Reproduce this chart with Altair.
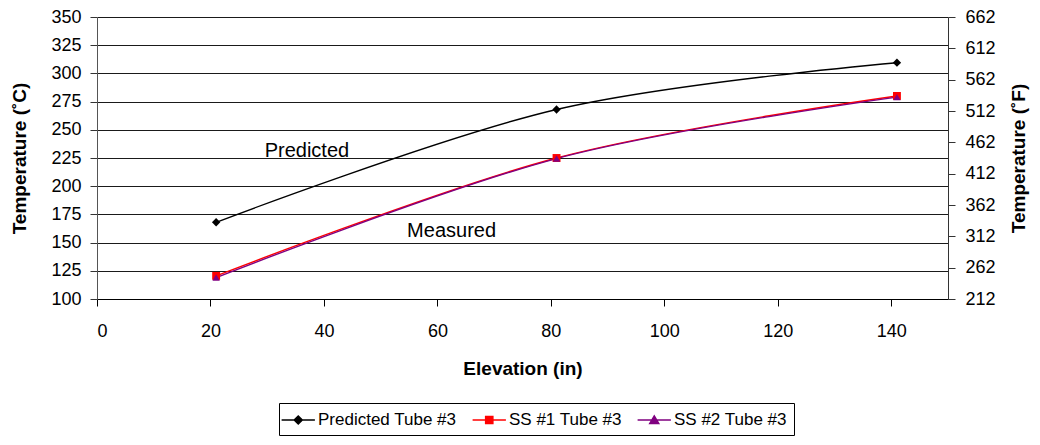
import altair as alt
import pandas as pd

# ---------------- data ----------------
elevation = [21, 81, 141]
predicted = [168, 268, 309.5]
ss1 = [120.5, 225, 280]
ss2 = [119, 224.5, 279]

series_names = ["Predicted Tube #3", "SS #1 Tube #3", "SS #2 Tube #3"]
series_colors = ["#000000", "#ff0000", "#800080"]
marker_shapes = ["diamond", "square", "triangle-up"]
marker_sizes = [70, 55, 64]
# legend symbols: short line with the marker in its middle
legend_shapes = [
    "M-1.6,0H2.1M0.25,-0.45L0.7,0L0.25,0.45L-0.2,0Z",
    "M-1.6,0H2.1M-0.15,-0.4H0.65V0.4H-0.15Z",
    "M-1.6,0H2.1M0.25,-0.45L0.75,0.4H-0.25Z",
]

x_ticks = [0, 20, 40, 60, 80, 100, 120, 140]
c_ticks = [100, 125, 150, 175, 200, 225, 250, 275, 300, 325, 350]
f_ticks = [212, 262, 312, 362, 412, 462, 512, 562, 612, 662]

annot_text = ["Predicted", "Measured"]
annot_x = [37, 62.5]
annot_y = [226, 155]

rows = []
for name, vals in zip(series_names, [predicted, ss1, ss2]):
    for e, v in zip(elevation, vals):
        rows.append({"series": name, "elev": e, "temp": v})
df = pd.DataFrame(rows)
df_f = pd.DataFrame({"f": f_ticks})
df_annot = pd.DataFrame({"label": annot_text, "elev": annot_x, "temp": annot_y})

FONT = "Liberation Sans"

x_scale = alt.Scale(domain=[0, 150], nice=False, zero=False)
yc_scale = alt.Scale(domain=[100, 350], nice=False, zero=False)
color_scale = alt.Scale(domain=series_names, range=series_colors)

x_axis = alt.Axis(
    values=x_ticks, title="Elevation (in)", grid=False, tickSize=7,
    labelPadding=16, titlePadding=19, labelFontSize=18, titleFontSize=19,
    titleFontWeight="bold", domainColor="#000000", tickColor="#000000",
    labelColor="#000000", titleColor="#000000", labelFont=FONT, titleFont=FONT,
)
x_enc = alt.X("elev:Q", scale=x_scale, axis=x_axis)

lines = alt.Chart(df).mark_line(interpolate="cardinal", tension=0, strokeWidth=1.4).encode(
    x=x_enc,
    y=alt.Y(
        "temp:Q",
        scale=yc_scale,
        axis=alt.Axis(
            values=c_ticks, title="Temperature (˚C)", grid=True, gridColor="#1a1a1a",
            gridWidth=1, tickSize=7, labelPadding=9, titlePadding=21,
            labelFontSize=18, titleFontSize=19, titleFontWeight="bold",
            domainColor="#555555", tickColor="#333333", labelColor="#000000",
            titleColor="#000000", labelFont=FONT, titleFont=FONT,
        ),
    ),
    color=alt.Color("series:N", scale=color_scale, legend=None),
)

points = alt.Chart(df).mark_point(filled=True, opacity=1).encode(
    x=x_enc,
    y=alt.Y("temp:Q", scale=yc_scale, axis=None),
    fill=alt.Fill("series:N", scale=color_scale, legend=None),
    shape=alt.Shape("series:N", scale=alt.Scale(domain=series_names, range=marker_shapes), legend=None),
    size=alt.Size("series:N", scale=alt.Scale(domain=series_names, range=marker_sizes), legend=None),
)

leg = alt.Legend(
    title=None, orient="none", legendX=182, legendY=386, direction="horizontal",
    strokeColor="#000000", fillColor="#ffffff", padding=7, symbolSize=324,
    symbolStrokeWidth=1.5, symbolOpacity=1, labelOffset=12, columnPadding=12,
    labelFontSize=17, labelFont=FONT, labelColor="#000000", labelLimit=300,
)
legend_layer = alt.Chart(df).transform_filter("false").mark_point(
    filled=True, opacity=1, strokeWidth=1.5
).encode(
    x=x_enc,
    y=alt.Y("temp:Q", scale=yc_scale, axis=None),
    fill=alt.Fill("series:N", scale=color_scale, legend=leg),
    stroke=alt.Stroke("series:N", scale=color_scale, legend=leg),
    shape=alt.Shape("series:N", scale=alt.Scale(domain=series_names, range=legend_shapes), legend=leg),
)

right_axis = alt.Chart(df_f).mark_point(opacity=0).encode(
    y=alt.Y(
        "f:Q",
        scale=alt.Scale(domain=[212, 662], nice=False, zero=False),
        axis=alt.Axis(
            orient="right", values=f_ticks, title="Temperature (˚F)", grid=False,
            tickSize=7, labelPadding=10, titlePadding=14, labelFontSize=18,
            titleFontSize=19, titleFontWeight="bold", titleAngle=270,
            titleBaseline="top", domainColor="#333333", tickColor="#333333",
            labelColor="#000000", titleColor="#000000", labelFont=FONT, titleFont=FONT,
        ),
    ),
)

annots = alt.Chart(df_annot).mark_text(
    fontSize=20, font=FONT, color="#000000", baseline="alphabetic", align="center"
).encode(
    x=x_enc,
    y=alt.Y("temp:Q", scale=yc_scale, axis=None),
    text="label:N",
)

chart = alt.layer(lines, points, legend_layer, right_axis, annots).resolve_scale(
    y="independent", color="independent", fill="independent",
    stroke="independent", shape="independent", size="independent",
).properties(
    width=851,
    height=282,
    padding={"left": 89, "top": 9, "right": 84, "bottom": 138},
    autosize=alt.AutoSizeParams(type="none"),
    background="#ffffff",
).configure_view(stroke=None)

chart.save("out.html", embed_options={"renderer": "svg", "actions": False})
